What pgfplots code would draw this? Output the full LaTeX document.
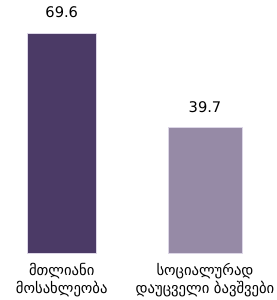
\documentclass[border=0pt]{standalone}
\usepackage{pgfplots}
\pgfplotsset{compat=1.18}
\usepackage{fontspec}
\setmainfont{DejaVu Sans}
\definecolor{barA}{HTML}{4B3A66}
\definecolor{barB}{HTML}{968AA6}
\definecolor{edge}{HTML}{DCD6E6}
\begin{document}
\begin{tikzpicture}[x=0.75pt,y=0.75pt]
\useasboundingbox (0,0) rectangle (276,300);
\begin{axis}[
  at={(0pt,35.25pt)}, anchor=south west,
  scale only axis, width=207pt, height=189.75pt,
  xmin=0, xmax=276, ymin=0, ymax=80.04,
  axis line style={draw=none}, ytick=\empty,
  xtick={61.75,205}, major tick length=0pt,
  xticklabels={{მთლიანი\\მოსახლეობა},{სოციალურად\\დაუცველი ბავშვები}},
  xticklabel style={align=center, font=\fontsize{11}{14}\selectfont, yshift=-4pt},
  nodes near coords,
  every node near coord/.append style={font=\fontsize{11}{13}\selectfont, anchor=south, inner sep=0pt, yshift=11pt},
  /pgf/number format/assume math mode=true,
  /pgf/number format/.cd, fixed, fixed zerofill, precision=1, /tikz/.cd,
  clip=false,
]
\addplot[ybar, bar width=68.5, fill=barA, draw=edge, line width=0.6pt] coordinates {(61.75,69.6)};
\addplot[ybar, bar width=74, fill=barB, draw=edge, line width=0.6pt] coordinates {(205,39.7)};
\end{axis}
\end{tikzpicture}
\end{document}
